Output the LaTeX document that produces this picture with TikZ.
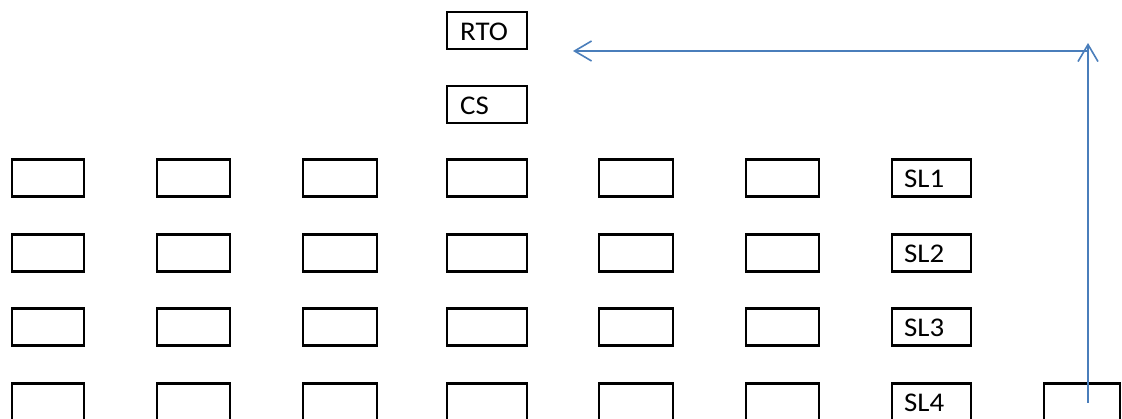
\documentclass[tikz,border=0pt]{standalone}
\usepackage{fontspec}
\setmainfont{Carlito}[FakeStretch=1.07]
\usetikzlibrary{arrows.meta}
\definecolor{lineblue}{RGB}{74,126,187}
\begin{document}
\begin{tikzpicture}[x=1pt,y=-1pt,
  box/.style={draw=black, line width=2.2pt, rectangle, inner sep=0pt, minimum height=37pt},
  lbl/.style={anchor=west, inner sep=0pt, font=\fontsize{27}{32}\selectfont},
  conn/.style={draw=lineblue, line width=1.6pt, -{Straight Barb[length=17pt,width=20pt,line width=1.6pt]}}
]
\useasboundingbox (0,0) rectangle (1122,419);
\clip (0,0) rectangle (1122,419);
% top boxes
\node[box, minimum width=80pt] (rto) at (487,30.75) {};
\node[box, minimum width=80pt] (cs) at (487,104.5) {};
\node[lbl] (rtoT) at ([xshift=14pt,yshift=-1pt]rto.west) {RTO};
\node[lbl] (csT) at ([xshift=14pt,yshift=-1pt]cs.west) {CS};
% grid
\foreach \r/\y in {1/178,2/253,3/327,4/402}{
  \node[box, minimum width=72pt] (b1\r) at (48,\y) {};
  \node[box, minimum width=73pt] (b2\r) at (193.5,\y) {};
  \node[box, minimum width=74pt] (b3\r) at (340,\y) {};
  \node[box, minimum width=80pt] (b4\r) at (487,\y) {};
  \node[box, minimum width=74pt] (b5\r) at (636,\y) {};
  \node[box, minimum width=73pt] (b6\r) at (782.5,\y) {};
  \node[box, minimum width=79pt] (sl\r) at (931.5,\y) {};
  \node[lbl] (slT\r) at ([xshift=13pt,yshift=-1pt]sl\r.west) {SL\r};
}
\node[box, minimum width=76pt] (last) at (1082,402) {};
% connectors
\coordinate (vs) at (1088,403);
\coordinate (vt) at (1088,43);
\coordinate (hs) at (1088,51);
\coordinate (ht) at (573,51);
\draw[conn] (vs) -- (vt);
\draw[conn] (hs) -- (ht);
\end{tikzpicture}
\end{document}
